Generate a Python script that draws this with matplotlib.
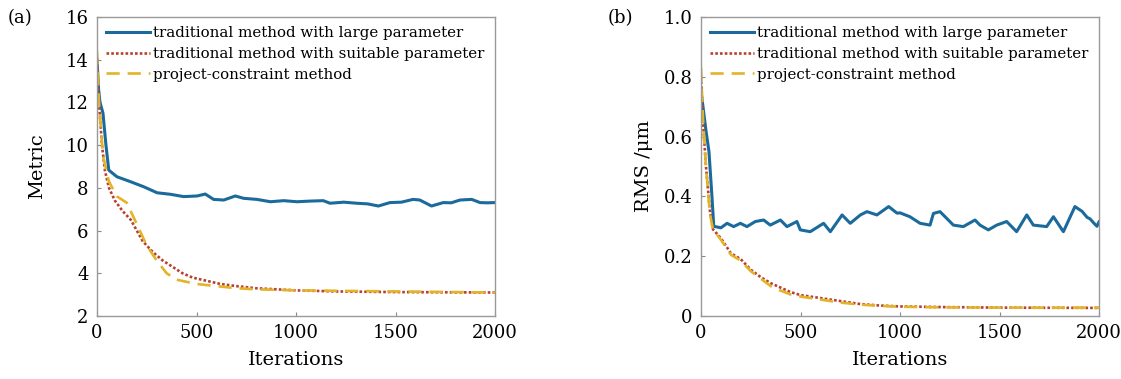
import numpy as np
import matplotlib
matplotlib.use('Agg')
import matplotlib.pyplot as plt

plt.rcParams['font.family'] = ['DejaVu Serif']

# (a) Metric vs iterations
a_large_x = [0, 8, 15, 30, 45, 59, 100, 168, 235, 302, 368, 436, 503, 544, 586, 637, 695,
             737, 804, 871, 938, 1005, 1070, 1137, 1171, 1240, 1305, 1360, 1414, 1472, 1530,
             1588, 1622, 1681, 1740, 1780, 1824, 1883, 1925, 1960, 2000]
a_large_y = [14.0, 12.6, 12.0, 11.5, 10.0, 8.83, 8.52, 8.29, 8.05, 7.77, 7.70, 7.59, 7.62,
             7.71, 7.46, 7.43, 7.62, 7.51, 7.46, 7.35, 7.40, 7.35, 7.38, 7.40, 7.28, 7.33,
             7.28, 7.25, 7.15, 7.31, 7.33, 7.46, 7.43, 7.15, 7.31, 7.30, 7.43, 7.46, 7.31,
             7.30, 7.31]
a_suit_x = [0, 10, 25, 40, 60, 90, 130, 170, 200, 230, 280, 330, 380, 430, 480, 550, 620,
            700, 800, 900, 1000, 1200, 1500, 2000]
a_suit_y = [14.0, 12.0, 10.0, 8.8, 8.0, 7.4, 6.9, 6.5, 6.0, 5.5, 5.0, 4.6, 4.3, 4.0, 3.8,
            3.65, 3.5, 3.4, 3.3, 3.25, 3.2, 3.15, 3.12, 3.1]
a_proj_x = [0, 10, 30, 60, 100, 150, 200, 250, 300, 350, 400, 500, 600, 700, 800, 1000,
            1500, 2000]
a_proj_y = [14.4, 12.0, 9.5, 8.3, 7.6, 7.3, 6.3, 5.3, 4.6, 4.0, 3.7, 3.5, 3.4, 3.3, 3.25,
            3.2, 3.15, 3.1]

# (b) RMS vs iterations
b_large_x = [0, 10, 25, 40, 55, 64, 100, 131, 164, 198, 231, 273, 315, 348, 399, 432, 482,
             499, 549, 616, 650, 709, 750, 801, 834, 884, 943, 985, 1000, 1050, 1101, 1151,
             1168, 1201, 1243, 1268, 1318, 1377, 1402, 1444, 1486, 1536, 1586, 1637, 1670,
             1737, 1771, 1821, 1879, 1915, 1940, 1955, 1975, 1990, 2000]
b_large_y = [0.75, 0.70, 0.62, 0.55, 0.40, 0.30, 0.295, 0.310, 0.299, 0.310, 0.299, 0.316,
             0.321, 0.304, 0.321, 0.299, 0.316, 0.288, 0.282, 0.310, 0.282, 0.338, 0.310,
             0.338, 0.349, 0.338, 0.366, 0.344, 0.345, 0.332, 0.310, 0.304, 0.343, 0.349,
             0.321, 0.304, 0.299, 0.321, 0.304, 0.288, 0.304, 0.316, 0.282, 0.338, 0.304,
             0.299, 0.332, 0.282, 0.366, 0.35, 0.33, 0.325, 0.31, 0.30, 0.315]
b_suit_x = [0, 10, 25, 45, 60, 100, 150, 200, 250, 300, 350, 400, 450, 500, 600, 700, 800,
            900, 1000, 1200, 1500, 2000]
b_suit_y = [0.80, 0.65, 0.50, 0.35, 0.29, 0.26, 0.21, 0.19, 0.155, 0.13, 0.11, 0.095, 0.08,
            0.07, 0.06, 0.05, 0.04, 0.035, 0.032, 0.03, 0.028, 0.027]
b_proj_x = [0, 10, 25, 45, 60, 100, 150, 200, 250, 300, 350, 400, 450, 500, 600, 700, 800,
            900, 1000, 1200, 1500, 2000]
b_proj_y = [0.83, 0.66, 0.50, 0.34, 0.29, 0.255, 0.205, 0.185, 0.15, 0.125, 0.10, 0.085,
            0.072, 0.065, 0.055, 0.045, 0.038, 0.034, 0.031, 0.029, 0.028, 0.028]

labels = ['traditional method with large parameter',
          'traditional method with suitable parameter',
          'project-constraint method']
c_blue = '#1b6a9c'
c_red = '#b8412e'
c_yel = '#e3b32a'

fig = plt.figure(figsize=(11.21, 3.79), dpi=100)
ax1 = fig.add_axes([97 / 1121, 1 - 316 / 379, 398 / 1121, 299 / 379])
ax2 = fig.add_axes([701 / 1121, 1 - 316 / 379, 398 / 1121, 299 / 379])

panels = [
    (ax1, a_large_x, a_large_y, a_suit_x, a_suit_y, a_proj_x, a_proj_y),
    (ax2, b_large_x, b_large_y, b_suit_x, b_suit_y, b_proj_x, b_proj_y),
]
for ax, lx, ly, sx, sy, px, py in panels:
    ax.plot(lx, ly, color=c_blue, lw=2.2, label=labels[0])
    ax.plot(sx, sy, color=c_red, lw=1.9, ls=(0, (1, 0.8)), label=labels[1])
    ax.plot(px, py, color=c_yel, lw=1.9, ls=(0, (5, 3)), label=labels[2])
    ax.set_xlim(0, 2000)
    ax.set_xticks([0, 500, 1000, 1500, 2000])
    ax.tick_params(direction='in', length=3, color='#888888', labelsize=13, pad=6)
    for s in ax.spines.values():
        s.set_color('#999999')
        s.set_linewidth(1.0)
    ax.set_xlabel('Iterations', fontsize=14, labelpad=6)
    ax.legend(loc='upper left', frameon=False, fontsize=10.8, handlelength=2.9,
              handletextpad=0.25, labelspacing=0.45, borderaxespad=0.2,
              bbox_to_anchor=(0.0, 1.0))

ax1.set_ylim(2, 16)
ax1.set_yticks([2, 4, 6, 8, 10, 12, 14, 16])
ax1.set_ylabel('Metric', fontsize=14, labelpad=14)
ax2.set_ylim(0, 1.0)
ax2.set_yticks([0, 0.2, 0.4, 0.6, 0.8, 1.0])
ax2.set_yticklabels(['0', '0.2', '0.4', '0.6', '0.8', '1.0'])
ax2.set_ylabel('RMS /μm', fontsize=14, labelpad=8)

fig.text(8 / 1121, 1 - 18 / 379, '(a)', fontsize=13, va='center')
fig.text(608 / 1121, 1 - 18 / 379, '(b)', fontsize=13, va='center')

fig.savefig('out.png', dpi=100)
